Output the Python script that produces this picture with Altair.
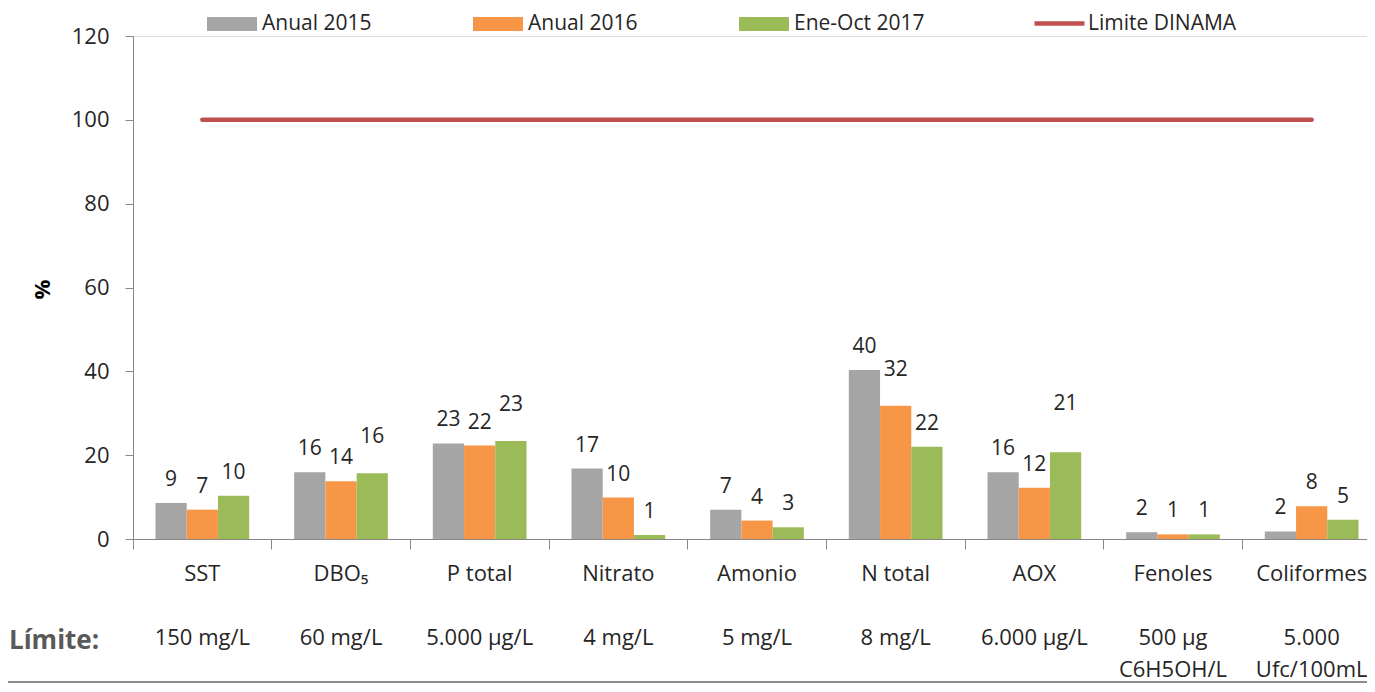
import altair as alt
import pandas as pd

# ---------------- data ----------------
categories = ["SST", "DBO₅", "P total", "Nitrato", "Amonio", "N total", "AOX", "Fenoles", "Coliformes"]
limit_texts = ["150 mg/L", "60 mg/L", "5.000 µg/L", "4 mg/L", "5 mg/L", "8 mg/L",
               "6.000 µg/L", "500 µg\nC6H5OH/L", "5.000\nUfc/100mL"]
series = ["Anual 2015", "Anual 2016", "Ene-Oct 2017"]
anual_2015 = [8.6, 15.9, 22.8, 16.8, 7.0, 40.3, 15.9, 1.6, 1.8]
anual_2016 = [7.0, 13.8, 22.3, 9.9, 4.4, 31.8, 12.2, 1.1, 7.8]
ene_oct_2017 = [10.3, 15.7, 23.4, 0.95, 2.8, 22.0, 20.7, 1.1, 4.6]
limit_name = "Limite DINAMA"
limite_dinama = [100, 100, 100, 100, 100, 100, 100, 100, 100]
y_ticks = [0, 20, 40, 60, 80, 100, 120]

# ---------------- style ----------------
FONT = "Open Sans"
TXT = "#262626"
AXC = "#868686"
colors = ["#A5A5A5", "#F79646", "#9BBB59"]
W, H = 1234, 503
PPU = H / 120.0
LABEL_LIFT = 23
label_nudge = {("DBO₅", "Ene-Oct 2017"): 13, ("P total", "Ene-Oct 2017"): 13,
               ("N total", "Anual 2016"): 13, ("AOX", "Ene-Oct 2017"): 25}

rows = []
for s, vals in zip(series, [anual_2015, anual_2016, ene_oct_2017]):
    for c, v in zip(categories, vals):
        lift = LABEL_LIFT + label_nudge.get((c, s), 0)
        rows.append({"cat": c, "series": s, "value": v, "label_y": v + lift / PPU})
df = pd.DataFrame(rows)
df_lim = pd.DataFrame({"cat": categories, "value": limite_dinama, "name": limit_name})
df_cat = pd.DataFrame({"cat": categories, "limit": limit_texts})

xscale = alt.Scale(domain=categories, range=[0, 1248], paddingInner=0, paddingOuter=0)
yscale = alt.Scale(domain=[0, 120])
offscale = alt.Scale(domain=series, paddingInner=0, paddingOuter=0.72)

bars = alt.Chart(df).mark_bar().encode(
    x=alt.X("cat:N", scale=xscale, title=None,
            axis=alt.Axis(labels=False, bandPosition=0, tickSize=10, tickColor=AXC,
                          domainColor=AXC, grid=False)),
    xOffset=alt.XOffset("series:N", scale=offscale),
    y=alt.Y("value:Q", scale=yscale,
            axis=alt.Axis(values=y_ticks, title="%", grid=False, tickSize=8, tickColor=AXC,
                          domainColor=AXC, labelFont=FONT, labelFontSize=22, labelColor=TXT,
                          labelPadding=16, titleFont=FONT, titleFontSize=22,
                          titleFontWeight="bold", titleColor="#000000", titleX=-91, titleY=253,
                          titleAlign="center", titleBaseline="middle")),
    fill=alt.Fill("series:N", scale=alt.Scale(domain=series, range=colors),
                  legend=alt.Legend(title=None, orient="none", legendX=74, legendY=-37,
                                    direction="horizontal", symbolType="M-1,-0.28H1V0.28H-1Z",
                                    symbolSize=2500, symbolStrokeWidth=0, labelFont=FONT,
                                    labelFontSize=21, labelColor=TXT, columnPadding=80,
                                    gridAlign="all", labelOffset=5, padding=0)),
)

line = alt.Chart(df_lim).mark_line(strokeWidth=4.5, strokeCap="round").encode(
    x=alt.X("cat:N", scale=xscale),
    y=alt.Y("value:Q", scale=yscale),
    stroke=alt.Stroke("name:N", scale=alt.Scale(domain=[limit_name], range=["#C0504D"]),
                      legend=alt.Legend(title=None, orient="none", legendX=899, legendY=-40,
                                        symbolType="stroke", symbolSize=2500,
                                        symbolStrokeWidth=4.5, labelFont=FONT,
                                        labelFontSize=21, labelColor=TXT, labelOffset=1,
                                        padding=0)),
)

labels = alt.Chart(df).mark_text(font=FONT, fontSize=21, color=TXT, baseline="middle").encode(
    x=alt.X("cat:N", scale=xscale),
    xOffset=alt.XOffset("series:N", scale=offscale),
    y=alt.Y("label_y:Q", scale=yscale),
    text=alt.Text("value:Q", format=".0f"),
)

cat_text = alt.Chart(df_cat).mark_text(font=FONT, fontSize=22, color=TXT, baseline="middle").encode(
    x=alt.X("cat:N", scale=xscale),
    y=alt.value(538),
    text="cat:N",
)

limit_text = alt.Chart(df_cat).mark_text(font=FONT, fontSize=22, color=TXT, baseline="alphabetic",
                                         lineBreak="\n", lineHeight=32).encode(
    x=alt.X("cat:N", scale=xscale),
    y=alt.value(609),
    text="limit:N",
)

limite_label = alt.Chart(pd.DataFrame({"t": ["Límite:"]})).mark_text(
    font=FONT, fontSize=26, fontWeight="bold", color="#595959", align="left", baseline="alphabetic"
).encode(x=alt.value(-124), y=alt.value(613), text="t:N")

bottom_rule = alt.Chart(pd.DataFrame({"a": [0]})).mark_rule(color="#8c8c8c", strokeWidth=2).encode(
    x=alt.value(-125), x2=alt.value(1234), y=alt.value(646)
)

chart = alt.layer(bars, line, labels, cat_text, limit_text, limite_label, bottom_rule).properties(
    width=W, height=H,
    autosize=alt.AutoSizeParams(type="none"),
    padding={"left": 125, "top": 28, "right": 0, "bottom": 145},
).configure_view(stroke=None).configure(background="white")

chart.save("out.html", embed_options={"renderer": "svg", "actions": False})
